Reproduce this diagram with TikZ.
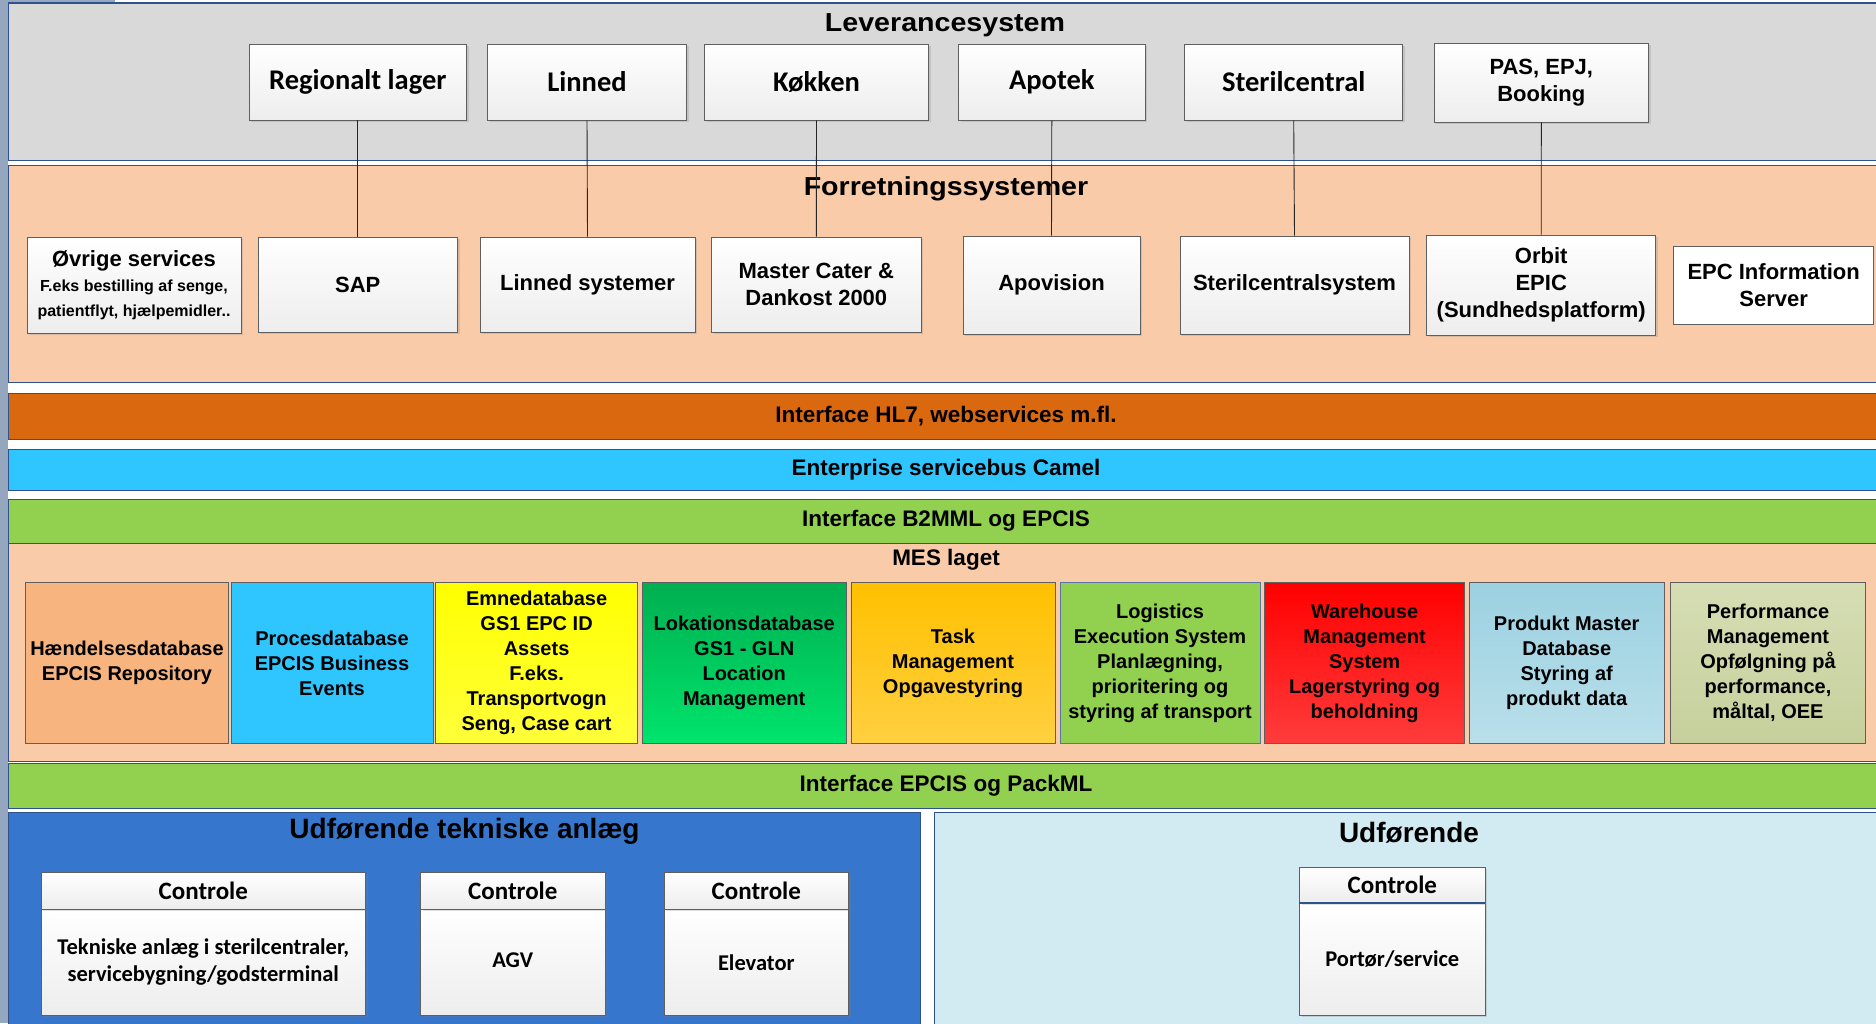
\documentclass[tikz,border=0pt]{standalone}
\usepackage{fontspec}
\setmainfont{Liberation Sans}
\newfontfamily\calib{Carlito}
\usetikzlibrary{shadows}
\definecolor{stripc}{HTML}{95A7BF}
\definecolor{edgeblue}{HTML}{2F528F}
\definecolor{graybg}{HTML}{D9D9D9}
\definecolor{peach}{HTML}{F9CBA8}
\definecolor{hlorange}{HTML}{D9680E}
\definecolor{busblue}{HTML}{2FC6FF}
\definecolor{bandgreen}{HTML}{92D050}
\definecolor{execblue}{HTML}{3676CC}
\definecolor{execlight}{HTML}{D2EAF1}
\definecolor{boxgray}{HTML}{5F5F5F}
\definecolor{boxbot}{HTML}{EDEDED}
\definecolor{mesorange}{HTML}{F7B47E}
\definecolor{greentop}{HTML}{00AF50}
\definecolor{greenbot}{HTML}{00E46C}
\definecolor{tasktop}{HTML}{FFC000}
\definecolor{taskbot}{HTML}{FFD040}
\definecolor{redtop}{HTML}{FF0000}
\definecolor{redbot}{HTML}{FF3C3C}
\definecolor{prodtop}{HTML}{9CD1E1}
\definecolor{prodbot}{HTML}{B9DFEA}
\definecolor{perftop}{HTML}{D6DDB4}
\definecolor{perfbot}{HTML}{C6D09C}
\definecolor{yeltop}{HTML}{FFFF00}
\definecolor{yelbot}{HTML}{FFFF3A}
\tikzset{
  region/.style={draw=edgeblue, line width=0.9pt},
  titlefont/.style={font=\bfseries\fontsize{26}{30}\selectfont},
  bandfont/.style={font=\bfseries\fontsize{22.5}{27}\selectfont},
  shade/.style={drop shadow={shadow xshift=2pt,shadow yshift=-2pt,opacity=0.25}},
  tbox/.style={draw=boxgray, line width=0.8pt, top color=white, bottom color=boxbot,
    shade, inner sep=0pt, align=center},
  calfont/.style={font=\calib\bfseries\fontsize{28.5}{32}\selectfont},
  arfont/.style={font=\bfseries\fontsize{22}{27}\selectfont},
  smallfont/.style={font=\bfseries\fontsize{16}{25}\selectfont},
  mbox/.style={draw=boxgray, line width=0.8pt, inner sep=0pt, align=center,
    minimum height=160.5pt, font=\bfseries\fontsize{20}{25}\selectfont},
  hbox/.style={draw=boxgray, line width=0.8pt, top color=white, bottom color=boxbot,
    shade, inner sep=0pt, font=\calib\bfseries\fontsize{25}{28}\selectfont},
  bbox/.style={draw=boxgray, line width=0.8pt, top color=white, bottom color=boxbot,
    shade, inner sep=0pt, align=center, font=\calib\bfseries\fontsize{22.5}{27}\selectfont},
  conn/.style={draw=black!85, line width=0.9pt}
}
\begin{document}
\begin{tikzpicture}[x=1pt,y=-1pt]
\useasboundingbox (0,0) rectangle (1876,1023);
\fill[white] (0,0) rectangle (1876,1023);
% left strip
\fill[stripc] (0,0) rectangle (8,1023);
\fill[stripc] (0,0) rectangle (115,3);
% regions and bands
\fill[graybg] (8,3) rectangle (1876,160);
\draw[region, line width=1.4pt] (8,3) -- (1876,3);
\draw[region] (8,160) -- (1876,160);
\draw[region] (8,3) -- (8,160);
\fill[peach] (8,165) rectangle (1876,382);
\draw[region] (1876,165) -- (8,165) -- (8,382) -- (1876,382);
\filldraw[fill=hlorange, region] (8,393) rectangle (1880,439);
\filldraw[fill=busblue, region] (8,449) rectangle (1880,490);
\filldraw[fill=bandgreen, region] (8,499) rectangle (1880,543);
\filldraw[fill=peach, region] (8,543) rectangle (1880,761);
\filldraw[fill=bandgreen, region] (8,763) rectangle (1880,808);
\filldraw[fill=execblue, region] (8,812) rectangle (920,1030);
\filldraw[fill=execlight, region] (934,812) rectangle (1880,1030);
% titles
\node[titlefont] (tlev) at (945,25) {\scalebox{1.1}[1]{Leverancesystem}};
\node[titlefont] (tfor) at (946,188.5) {\scalebox{1.1}[1]{Forretningssystemer}};
\node[bandfont] (thl7) at (946,416) {Interface HL7, webservices m.fl.};
\node[bandfont] (tesb) at (946,469.5) {Enterprise servicebus Camel};
\node[bandfont] (tb2m) at (946,521) {Interface B2MML og EPCIS};
\node[bandfont] (tmes) at (946,560) {MES laget};
\node[bandfont] (tpack) at (946,785.5) {Interface EPCIS og PackML};
\node[font=\bfseries\fontsize{28}{32}\selectfont] (tudt) at (464.5,831) {Udførende tekniske anlæg};
\node[font=\bfseries\fontsize{28}{32}\selectfont] (tud) at (1409,832.5) {Udførende};
% Leverancesystem boxes
\node[tbox, calfont, minimum width=217.5pt, minimum height=76pt] (reg) at (357.8,82) {Regionalt lager};
\node[tbox, calfont, minimum width=199pt, minimum height=76pt] (lin) at (587,82) {Linned};
\node[tbox, calfont, minimum width=224pt, minimum height=76pt] (kok) at (816.5,82) {Køkken};
\node[tbox, calfont, minimum width=186.5pt, minimum height=76pt] (apo) at (1051.8,82) {Apotek};
\node[tbox, calfont, minimum width=218pt, minimum height=76pt] (ste) at (1293.7,82) {Sterilcentral};
\node[tbox, arfont, minimum width=214.6pt, minimum height=79pt] (pas) at (1541.3,82.5) {PAS, EPJ,\\Booking};
% Forretningssystemer boxes
\node[tbox, smallfont, minimum width=214pt, minimum height=96pt] (ovr) at (134,285)
  {{\fontsize{22}{26}\selectfont Øvrige services}\\F.eks bestilling af senge,\\patientflyt, hjælpemidler..};
\node[tbox, arfont, minimum width=199.6pt, minimum height=95pt] (sap) at (357.8,284.5) {SAP};
\node[tbox, arfont, minimum width=215pt, minimum height=95pt] (lins) at (587.5,284.5) {Linned systemer};
\node[tbox, arfont, minimum width=209.4pt, minimum height=95pt] (mca) at (816.3,284.5) {Master Cater \&\\Dankost 2000};
\node[tbox, arfont, minimum width=177pt, minimum height=98pt] (apv) at (1051.5,285) {Apovision};
\node[tbox, arfont, minimum width=229pt, minimum height=98pt] (sts) at (1294.5,285) {Sterilcentralsystem};
\node[tbox, arfont, minimum width=229pt, minimum height=100pt] (orb) at (1541.2,285) {Orbit\\EPIC\\(Sundhedsplatform)};
\node[draw=boxgray, line width=0.8pt, fill=white, inner sep=0pt, align=center, arfont,
  minimum width=200pt, minimum height=78pt] (epc) at (1773.7,285.2) {EPC Information\\Server};
% connectors
\draw[conn] (reg.south) -- (sap.north);
\draw[conn] (lin.south) -- (lins.north);
\draw[conn] (kok.south) -- (mca.north);
\draw[conn] (apo.south) -- (apv.north);
\draw[conn] (ste.south) -- (sts.north);
\draw[conn] (pas.south) -- (orb.north);
% MES boxes
\node[mbox, fill=mesorange, minimum width=203pt] (m1) at (127,663) {Hændelsesdatabase\\EPCIS Repository};
\node[mbox, fill=busblue, minimum width=202pt] (m2) at (332,663) {Procesdatabase\\EPCIS Business\\Events};
\node[mbox, top color=yeltop, bottom color=yelbot, minimum width=202pt] (m3) at (536.6,663) {Emnedatabase\\GS1 EPC ID\\Assets\\F.eks.\\Transportvogn\\Seng, Case cart};
\node[mbox, top color=greentop, bottom color=greenbot, minimum width=204pt] (m4) at (744.2,663) {Lokationsdatabase\\GS1 - GLN\\Location\\Management};
\node[mbox, top color=tasktop, bottom color=taskbot, minimum width=204pt] (m5) at (953,663) {Task\\Management\\Opgavestyring};
\node[mbox, fill=bandgreen, draw=edgeblue!80, minimum width=200pt] (m6) at (1160,663) {Logistics\\Execution System\\Planlægning,\\prioritering og\\styring af transport};
\node[mbox, top color=redtop, bottom color=redbot, minimum width=200pt] (m7) at (1364.6,663) {Warehouse\\Management\\System\\Lagerstyring og\\beholdning};
\node[mbox, top color=prodtop, bottom color=prodbot, minimum width=195pt] (m8) at (1566.7,663) {Produkt Master\\Database\\Styring af\\produkt data};
\node[mbox, top color=perftop, bottom color=perfbot, minimum width=195.5pt] (m9) at (1768,663) {Performance\\Management\\Opfølgning på\\performance,\\måltal, OEE};
% Udførende tekniske anlæg
\node[bbox, minimum width=324.5pt, minimum height=105.7pt] (b1) at (203.3,962.2)
  {\raisebox{5pt}{\begin{tabular}{@{}c@{}}Tekniske anlæg i sterilcentraler,\\servicebygning/godsterminal\end{tabular}}};
\node[hbox, minimum width=324.5pt, minimum height=36.6pt] (h1) at (203.3,891) {Controle};
\node[bbox, minimum width=184.4pt, minimum height=105.7pt] (b2) at (512.8,962.2) {\raisebox{4pt}{AGV}};
\node[hbox, minimum width=184.4pt, minimum height=36.6pt] (h2) at (512.8,891) {Controle};
\node[bbox, minimum width=184.5pt, minimum height=105.7pt] (b3) at (756.3,962.2) {Elevator};
\node[hbox, minimum width=184.5pt, minimum height=36.6pt] (h3) at (756.3,891) {Controle};
% Udførende
\node[bbox, minimum width=185.5pt, minimum height=112.3pt] (b4) at (1392.3,958.9) {Portør/service};
\node[hbox, minimum width=185.5pt, minimum height=35.4pt] (h4) at (1392.3,885) {Controle};
\draw[edgeblue, line width=2pt] (h4.south west) -- (h4.south east);
\end{tikzpicture}
\end{document}
